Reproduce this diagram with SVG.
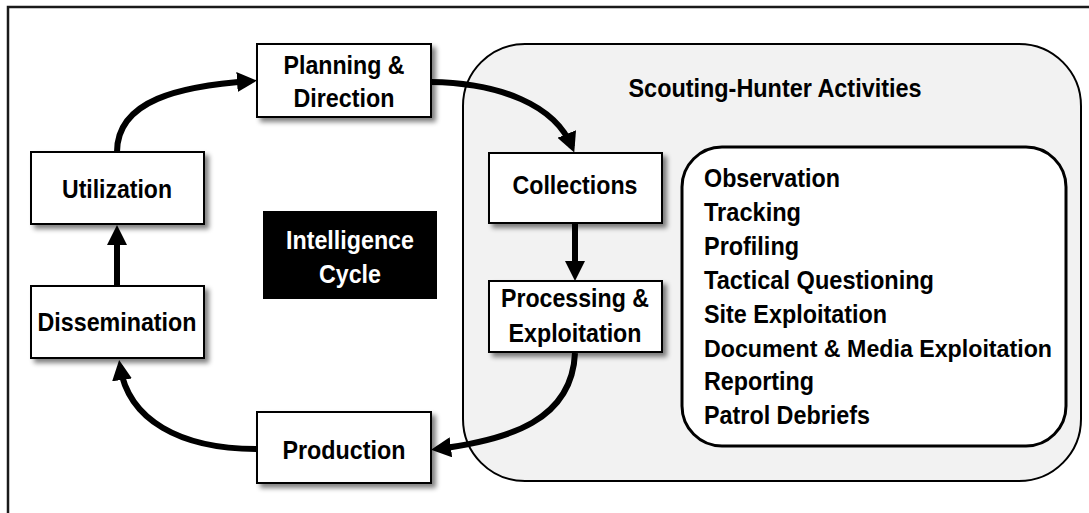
<svg xmlns="http://www.w3.org/2000/svg" width="1089" height="513" viewBox="0 0 1089 513">
  <style>
    .box { fill: #ffffff; stroke: #000000; stroke-width: 2; filter: url(#shadow); }
    .lbl { font-family: "Liberation Sans", Arial, sans-serif; font-weight: bold; font-size: 26px; fill: #000000; text-anchor: middle; }
    .wlbl { fill: #ffffff; }
    .item { font-family: "Liberation Sans", Arial, sans-serif; font-weight: bold; font-size: 26px; fill: #000000; }
    .conn { fill: none; stroke: #000000; stroke-width: 6; marker-end: url(#arrow); }
  </style>
  <defs>
    <filter id="shadow" x="-10%" y="-10%" width="130%" height="140%">
      <feGaussianBlur in="SourceAlpha" stdDeviation="2.5"/>
      <feOffset dx="4" dy="4" result="b"/>
      <feComponentTransfer><feFuncA type="linear" slope="0.5"/></feComponentTransfer>
      <feMerge><feMergeNode/><feMergeNode in="SourceGraphic"/></feMerge>
    </filter>
    <marker id="arrow" markerUnits="userSpaceOnUse" markerWidth="20" markerHeight="20" refX="14" refY="10" orient="auto">
      <path d="M0,0 L20,10 L0,20 z" fill="#000000"/>
    </marker>
  </defs>

  <rect x="8" y="7" width="1100" height="520" fill="#ffffff" stroke="#1a1a1a" stroke-width="2.5"/>

  <g id="scouting">
    <rect x="463" y="44" width="618" height="437" rx="62" ry="62" fill="#f2f2f2" stroke="#000000" stroke-width="2"/>
    <text class="lbl" x="775" y="97" textLength="293" lengthAdjust="spacingAndGlyphs">Scouting-Hunter Activities</text>
  </g>

  <g id="activities">
    <rect x="682" y="147" width="384" height="299" rx="40" ry="40" fill="#ffffff" stroke="#000000" stroke-width="3"/>
    <text class="item" x="704" y="187" textLength="136" lengthAdjust="spacingAndGlyphs">Observation</text>
    <text class="item" x="704" y="221" textLength="97" lengthAdjust="spacingAndGlyphs">Tracking</text>
    <text class="item" x="704" y="255" textLength="95" lengthAdjust="spacingAndGlyphs">Profiling</text>
    <text class="item" x="704" y="289" textLength="230" lengthAdjust="spacingAndGlyphs">Tactical Questioning</text>
    <text class="item" x="704" y="323" textLength="183" lengthAdjust="spacingAndGlyphs">Site Exploitation</text>
    <text class="item" x="704" y="357" style="font-size:23.5px" textLength="348" lengthAdjust="spacingAndGlyphs">Document &amp; Media Exploitation</text>
    <text class="item" x="704" y="390" textLength="110" lengthAdjust="spacingAndGlyphs">Reporting</text>
    <text class="item" x="704" y="424" textLength="166" lengthAdjust="spacingAndGlyphs">Patrol Debriefs</text>
  </g>

  <g id="connectors">
    <path class="conn" d="M117,152 C117,100 180,86 251,81"/>
    <path class="conn" d="M431,82 C500,83 555,105 572,147"/>
    <path class="conn" d="M575,224 L575,275"/>
    <path class="conn" d="M575,353 C572,420 510,440 437,449"/>
    <path class="conn" d="M257,449 C180,449 128,420 120,366"/>
    <path class="conn" d="M117,286 L117,231"/>
  </g>

  <g id="planning">
    <rect class="box" x="257" y="44" width="174" height="73"/>
    <text class="lbl" x="344" y="74" textLength="121" lengthAdjust="spacingAndGlyphs">Planning &amp;</text>
    <text class="lbl" x="344" y="107" textLength="101" lengthAdjust="spacingAndGlyphs">Direction</text>
  </g>
  <g id="utilization">
    <rect class="box" x="31" y="152" width="173" height="72"/>
    <text class="lbl" x="117" y="198" textLength="110" lengthAdjust="spacingAndGlyphs">Utilization</text>
  </g>
  <g id="intelligence-cycle">
    <rect x="263" y="211" width="174" height="88" fill="#000000"/>
    <text class="lbl wlbl" x="350" y="249" textLength="128" lengthAdjust="spacingAndGlyphs">Intelligence</text>
    <text class="lbl wlbl" x="350" y="283" textLength="62" lengthAdjust="spacingAndGlyphs">Cycle</text>
  </g>
  <g id="dissemination">
    <rect class="box" x="31" y="286" width="173" height="72"/>
    <text class="lbl" x="117" y="331" textLength="159" lengthAdjust="spacingAndGlyphs">Dissemination</text>
  </g>
  <g id="production">
    <rect class="box" x="257" y="412" width="174" height="71"/>
    <text class="lbl" x="344" y="459" textLength="123" lengthAdjust="spacingAndGlyphs">Production</text>
  </g>
  <g id="collections">
    <rect class="box" x="489" y="153" width="173" height="70"/>
    <text class="lbl" x="575" y="194" textLength="125" lengthAdjust="spacingAndGlyphs">Collections</text>
  </g>
  <g id="processing">
    <rect class="box" x="489" y="281" width="173" height="71"/>
    <text class="lbl" x="575" y="307" textLength="148" lengthAdjust="spacingAndGlyphs">Processing &amp;</text>
    <text class="lbl" x="575" y="342" textLength="133" lengthAdjust="spacingAndGlyphs">Exploitation</text>
  </g>
</svg>
